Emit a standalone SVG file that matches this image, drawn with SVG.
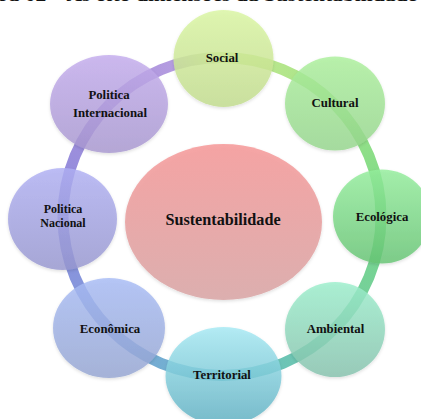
<svg xmlns="http://www.w3.org/2000/svg" width="421" height="419" viewBox="0 0 421 419">
<defs>
<style>
.lbl{font-family:"Liberation Serif","Times New Roman",serif;font-weight:bold;font-size:12.8px;fill:#111;text-anchor:middle;dominant-baseline:central}
.sm{font-size:12px}
.ctr{font-size:16.2px}
.ttl{font-family:"Liberation Serif","Times New Roman",serif;font-weight:bold;font-size:19px;fill:#111}
.ring{fill:none;stroke-width:11}
.node{fill-opacity:0.82;filter:url(#sh)}
</style>
<filter id="sh" x="-20%" y="-20%" width="140%" height="140%"><feDropShadow dx="0" dy="1.5" stdDeviation="1.5" flood-color="#000" flood-opacity="0.15"/></filter>
<linearGradient id="gSoc" x1="0" y1="0" x2="0" y2="1"><stop offset="0" stop-color="#daf6a2"/><stop offset="1" stop-color="#c2dc8e"/></linearGradient>
<linearGradient id="gCul" x1="0" y1="0" x2="0" y2="1"><stop offset="0" stop-color="#acf09c"/><stop offset="1" stop-color="#96d68e"/></linearGradient>
<linearGradient id="gEco" x1="0" y1="0" x2="0" y2="1"><stop offset="0" stop-color="#94ee9c"/><stop offset="1" stop-color="#66c474"/></linearGradient>
<linearGradient id="gAmb" x1="0" y1="0" x2="0" y2="1"><stop offset="0" stop-color="#9cefcc"/><stop offset="1" stop-color="#86c2ae"/></linearGradient>
<linearGradient id="gTer" x1="0" y1="0" x2="0" y2="1"><stop offset="0" stop-color="#a6eaf4"/><stop offset="1" stop-color="#5eb0c2"/></linearGradient>
<linearGradient id="gEcn" x1="0" y1="0" x2="0" y2="1"><stop offset="0" stop-color="#a8bcf6"/><stop offset="1" stop-color="#96a6d2"/></linearGradient>
<linearGradient id="gNac" x1="0" y1="0" x2="0" y2="1"><stop offset="0" stop-color="#b0b0f4"/><stop offset="1" stop-color="#9898d0"/></linearGradient>
<linearGradient id="gInt" x1="0" y1="0" x2="0" y2="1"><stop offset="0" stop-color="#c4acee"/><stop offset="1" stop-color="#a898d0"/></linearGradient>
<linearGradient id="gSus" x1="0" y1="0" x2="0" y2="1"><stop offset="0" stop-color="#f69494"/><stop offset="1" stop-color="#d8a2a2"/></linearGradient>
<linearGradient id="r1" gradientUnits="userSpaceOnUse" x1="222" y1="57.5" x2="334.43" y2="104.07"><stop offset="0" stop-color="#c8e890"/><stop offset="1" stop-color="#a0e488"/></linearGradient>
<linearGradient id="r2" gradientUnits="userSpaceOnUse" x1="334.43" y1="104.07" x2="381" y2="216.5"><stop offset="0" stop-color="#a0e488"/><stop offset="1" stop-color="#78d888"/></linearGradient>
<linearGradient id="r3" gradientUnits="userSpaceOnUse" x1="381" y1="216.5" x2="334.43" y2="328.93"><stop offset="0" stop-color="#78d888"/><stop offset="1" stop-color="#74cca4"/></linearGradient>
<linearGradient id="r4" gradientUnits="userSpaceOnUse" x1="334.43" y1="328.93" x2="222" y2="375.5"><stop offset="0" stop-color="#74cca4"/><stop offset="1" stop-color="#64bcc8"/></linearGradient>
<linearGradient id="r5" gradientUnits="userSpaceOnUse" x1="222" y1="375.5" x2="109.57" y2="328.93"><stop offset="0" stop-color="#64bcc8"/><stop offset="1" stop-color="#84a0dc"/></linearGradient>
<linearGradient id="r6" gradientUnits="userSpaceOnUse" x1="109.57" y1="328.93" x2="63" y2="216.5"><stop offset="0" stop-color="#84a0dc"/><stop offset="1" stop-color="#8a8adc"/></linearGradient>
<linearGradient id="r7" gradientUnits="userSpaceOnUse" x1="63" y1="216.5" x2="109.57" y2="104.07"><stop offset="0" stop-color="#8a8adc"/><stop offset="1" stop-color="#aa92dc"/></linearGradient>
<linearGradient id="r8" gradientUnits="userSpaceOnUse" x1="109.57" y1="104.07" x2="222" y2="57.5"><stop offset="0" stop-color="#aa92dc"/><stop offset="0.6" stop-color="#b49ce0"/><stop offset="1" stop-color="#c8e890"/></linearGradient>
</defs>
<rect width="421" height="419" fill="#fff"/>
<text class="ttl" x="-1" y="1" textLength="418" lengthAdjust="spacingAndGlyphs">ra 02 – As oito dimensões da Sustentabilidade</text>
<g id="connectors">
<path class="ring" stroke="url(#r1)" d="M222 57.5A159 159 0 0 1 334.43 104.07"/>
<path class="ring" stroke="url(#r2)" d="M334.43 104.07A159 159 0 0 1 381 216.5"/>
<path class="ring" stroke="url(#r3)" d="M381 216.5A159 159 0 0 1 334.43 328.93"/>
<path class="ring" stroke="url(#r4)" d="M334.43 328.93A159 159 0 0 1 222 375.5"/>
<path class="ring" stroke="url(#r5)" d="M222 375.5A159 159 0 0 1 109.57 328.93"/>
<path class="ring" stroke="url(#r6)" d="M109.57 328.93A159 159 0 0 1 63 216.5"/>
<path class="ring" stroke="url(#r7)" d="M63 216.5A159 159 0 0 1 109.57 104.07"/>
<path class="ring" stroke="url(#r8)" d="M109.57 104.07A159 159 0 0 1 222 57.5"/>
</g>
<g id="sustentabilidade"><ellipse class="node" cx="223.5" cy="222" rx="98.5" ry="78" fill="url(#gSus)"/><text class="lbl ctr" x="223" y="220">Sustentabilidade</text></g>
<g id="social"><ellipse class="node" cx="223.5" cy="58.5" rx="50" ry="48.5" fill="url(#gSoc)"/><text class="lbl" x="222" y="58">Social</text></g>
<g id="cultural"><ellipse class="node" cx="335" cy="103.5" rx="50" ry="47" fill="url(#gCul)"/><text class="lbl" x="335" y="103">Cultural</text></g>
<g id="ecologica"><ellipse class="node" cx="382" cy="216.5" rx="49" ry="47" fill="url(#gEco)"/><text class="lbl" x="382" y="217">Ecológica</text></g>
<g id="ambiental"><ellipse class="node" cx="335" cy="329.5" rx="50" ry="47.5" fill="url(#gAmb)"/><text class="lbl" x="335.5" y="329">Ambiental</text></g>
<g id="territorial"><ellipse class="node" cx="223.5" cy="376" rx="58" ry="49" fill="url(#gTer)"/><text class="lbl" x="222" y="375">Territorial</text></g>
<g id="economica"><ellipse class="node" cx="109" cy="328" rx="56" ry="50" fill="url(#gEcn)"/><text class="lbl" x="110" y="329">Econômica</text></g>
<g id="politica-nacional"><ellipse class="node" cx="62.5" cy="219" rx="54.5" ry="51" fill="url(#gNac)"/><text class="lbl sm" x="63" y="209">Politica</text><text class="lbl sm" x="63" y="223">Nacional</text></g>
<g id="politica-internacional"><ellipse class="node" cx="109" cy="104" rx="59" ry="49" fill="url(#gInt)"/><text class="lbl" x="109" y="95">Politica</text><text class="lbl" x="110" y="113">Internacional</text></g>
</svg>
